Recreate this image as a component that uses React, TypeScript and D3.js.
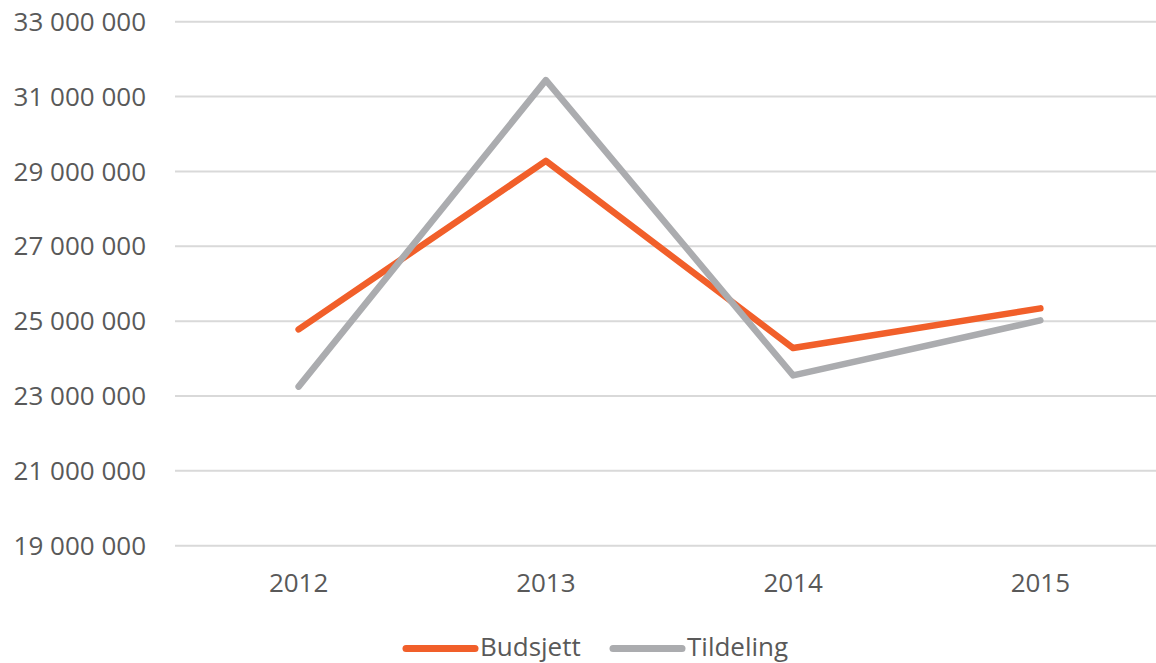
import React, { useEffect, useRef } from 'react';
import * as d3 from 'd3';

const years = ['2012', '2013', '2014', '2015'];
const budsjett = [24780000, 29280000, 24280000, 25340000];
const tildeling = [23250000, 31440000, 23550000, 25020000];
const yTicks = [19000000, 21000000, 23000000, 25000000, 27000000, 29000000, 31000000, 33000000];

const seriesNames = ['Budsjett', 'Tildeling'];
const colors = ['#F15F2A', '#ABACAF'];

const App = () => {
  const svgRef = useRef<SVGSVGElement>(null);

  useEffect(() => {
    const font = "'Open Sans', sans-serif";

    const svg = d3.select(svgRef.current);
    svg.selectAll('*').remove();

    const x = d3.scalePoint<string>()
      .domain(years)
      .range([175, 1164])
      .padding(0.5);

    const y = d3.scaleLinear()
      .domain([19000000, 33000000])
      .range([545.7, 21.7]);

    const fmt = (v: number) => d3.format(',')(v).replace(/,/g, ' ');

    // gridlines
    svg.append('g')
      .selectAll('line')
      .data(yTicks)
      .enter()
      .append('line')
      .attr('x1', 175)
      .attr('x2', 1164)
      .attr('y1', d => y(d))
      .attr('y2', d => y(d))
      .attr('stroke', '#D9D9D9')
      .attr('stroke-width', 2);

    // y labels
    svg.append('g')
      .selectAll('text')
      .data(yTicks)
      .enter()
      .append('text')
      .attr('x', 146)
      .attr('y', d => y(d))
      .attr('dy', '0.35em')
      .attr('text-anchor', 'end')
      .style('font-family', font)
      .style('font-size', '26px')
      .style('fill', '#595959')
      .text(d => fmt(d));

    // x labels
    svg.append('g')
      .selectAll('text')
      .data(years)
      .enter()
      .append('text')
      .attr('x', d => x(d) as number)
      .attr('y', 592)
      .attr('text-anchor', 'middle')
      .style('font-family', font)
      .style('font-size', '26px')
      .style('fill', '#595959')
      .text(d => d);

    const line = d3.line<number>()
      .x((_, i) => x(years[i]) as number)
      .y(d => y(d));

    [budsjett, tildeling].forEach((s, i) => {
      svg.append('path')
        .datum(s)
        .attr('d', line)
        .attr('fill', 'none')
        .attr('stroke', colors[i])
        .attr('stroke-width', 6.5)
        .attr('stroke-linejoin', 'round')
        .attr('stroke-linecap', 'round');
    });

    // legend
    const legendX = [406, 613];
    const legend = svg.append('g');
    seriesNames.forEach((name, i) => {
      legend.append('line')
        .attr('x1', legendX[i])
        .attr('x2', legendX[i] + 69)
        .attr('y1', 648.5)
        .attr('y2', 648.5)
        .attr('stroke', colors[i])
        .attr('stroke-width', 7)
        .attr('stroke-linecap', 'round');
      legend.append('text')
        .attr('x', legendX[i] + 74)
        .attr('y', 656)
        .style('font-family', font)
        .style('font-size', '26px')
        .style('fill', '#595959')
        .text(name);
    });
  }, []);

  return (
    <svg
      ref={svgRef}
      width={1156}
      height={663}
      style={{ position: 'absolute', left: 0, top: 0, background: '#fff', display: 'block' }}
    />
  );
};

export default App;
